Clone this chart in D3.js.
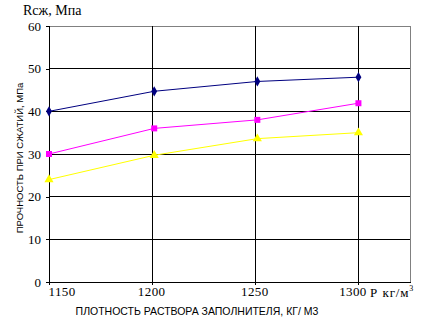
<!DOCTYPE html>
<html><head><meta charset="utf-8">
<script src="https://cdn.jsdelivr.net/npm/d3@7"></script>
<style>body{margin:0;background:#fff}svg{display:block}</style>
</head><body>
<script>
const xValues = [1150, 1201, 1251, 1300];
const seriesNavy = [40, 44.7, 47, 48];
const seriesMagenta = [30, 36, 38, 41.9];
const seriesYellow = [24, 29.7, 33.6, 35];
const xTicks = [1150, 1200, 1250, 1300];
const yTicks = [0, 10, 20, 30, 40, 50, 60];
const yTitle = "ПРОЧНОСТЬ ПРИ СЖАТИЙ, МПа";
const xTitle = "ПЛОТНОСТЬ РАСТВОРА ЗАПОЛНИТЕЛЯ, КГ/ М3";
const topLabel = "Rсж, Мпа";

const W = 432, H = 321;
const svg = d3.select("body").append("svg").attr("width", W).attr("height", H);
const L = 49, R = 410, T = 26, B = 282;
const x = d3.scaleLinear().domain([1150, 1325]).range([L, R]);
const y = d3.scaleLinear().domain([0, 60]).range([B, T]);
const serif = "'Liberation Serif', 'Times New Roman', serif";
const sans = "'Liberation Sans', Arial, sans-serif";

// plot border (gray)
svg.append("rect").attr("x", L).attr("y", T).attr("width", R - L).attr("height", B - T)
  .attr("fill", "#fff").attr("stroke", "#808080").attr("stroke-width", 1)
  .attr("shape-rendering", "crispEdges");

// horizontal gridlines
svg.append("g").selectAll("line").data(yTicks.filter(d => d > 0 && d < 60)).join("line")
  .attr("x1", L).attr("x2", R).attr("y1", d => y(d)).attr("y2", d => y(d))
  .attr("stroke", "#000").attr("shape-rendering", "crispEdges");
// vertical gridlines
svg.append("g").selectAll("line").data(xTicks.slice(1)).join("line")
  .attr("y1", T).attr("y2", B).attr("x1", d => x(d)).attr("x2", d => x(d))
  .attr("stroke", "#000").attr("shape-rendering", "crispEdges");

// axes
const yAxis = d3.axisLeft(y).tickValues(yTicks).tickSize(3).tickPadding(5).tickFormat(d3.format("d"));
const gy = svg.append("g").attr("transform", `translate(${L},0)`).call(yAxis);
gy.select(".domain").attr("stroke", "#000").attr("shape-rendering", "crispEdges");
gy.selectAll(".tick line").attr("stroke", "#000").attr("shape-rendering", "crispEdges");
gy.selectAll("text").attr("font-family", serif).attr("font-size", 13).attr("fill", "#000");

const xAxis = d3.axisBottom(x).tickValues(xTicks).tickSize(3).tickPadding(2).tickSizeOuter(0)
  .tickFormat(d3.format("d"));
const gx = svg.append("g").attr("transform", `translate(0,${B})`).call(xAxis);
gx.select(".domain").attr("stroke", "#000").attr("shape-rendering", "crispEdges");
gx.selectAll(".tick line").attr("stroke", "#000").attr("shape-rendering", "crispEdges");
gx.selectAll("text").attr("font-family", serif)
  .attr("font-size", 13).attr("fill", "#000").attr("letter-spacing", 0.4)
  .attr("text-anchor", (d, i) => i === 0 ? "start" : "middle")
  .attr("dx", (d, i) => i === 3 ? -6 : -1);

// unit label on x axis
const unit = svg.append("text").attr("x", 370).attr("y", 297)
  .attr("font-family", serif).attr("font-size", 13).attr("letter-spacing", 0.8);
unit.append("tspan").text("P ");
unit.append("tspan").text("кг/м").attr("dx", 1);
unit.append("tspan").text("3").attr("font-size", 8).attr("dy", -6);

// top label
svg.append("text").attr("x", 23).attr("y", 15).text(topLabel)
  .attr("font-family", serif).attr("font-size", 14);

// axis titles
svg.append("text").attr("x", 197).attr("y", 315).attr("text-anchor", "middle").text(xTitle)
  .attr("font-family", sans).attr("font-size", 10.5);
svg.append("text").attr("transform", `translate(23,158) rotate(-90)`).attr("text-anchor", "middle").text(yTitle)
  .attr("font-family", sans).attr("font-size", 9.5);

// series
const series = [
  {vals: seriesNavy, color: "#000080", sym: d3.symbolDiamond, size: 30},
  {vals: seriesMagenta, color: "#FF00FF", sym: d3.symbolSquare, size: 36},
  {vals: seriesYellow, color: "#FFFF00", sym: d3.symbolTriangle, size: 36}
];
const line = d3.line().x(d => x(d[0])).y(d => y(d[1]));
series.forEach(s => {
  const pts = xValues.map((xv, i) => [xv, s.vals[i]]);
  svg.append("path").datum(pts).attr("d", line).attr("fill", "none")
    .attr("stroke", s.color).attr("stroke-width", 1);
  svg.append("g").selectAll("path").data(pts).join("path")
    .attr("transform", d => `translate(${x(d[0])},${y(d[1])})`)
    .attr("d", d3.symbol().type(s.sym).size(s.size)).attr("fill", s.color);
});
</script>
</body></html>
